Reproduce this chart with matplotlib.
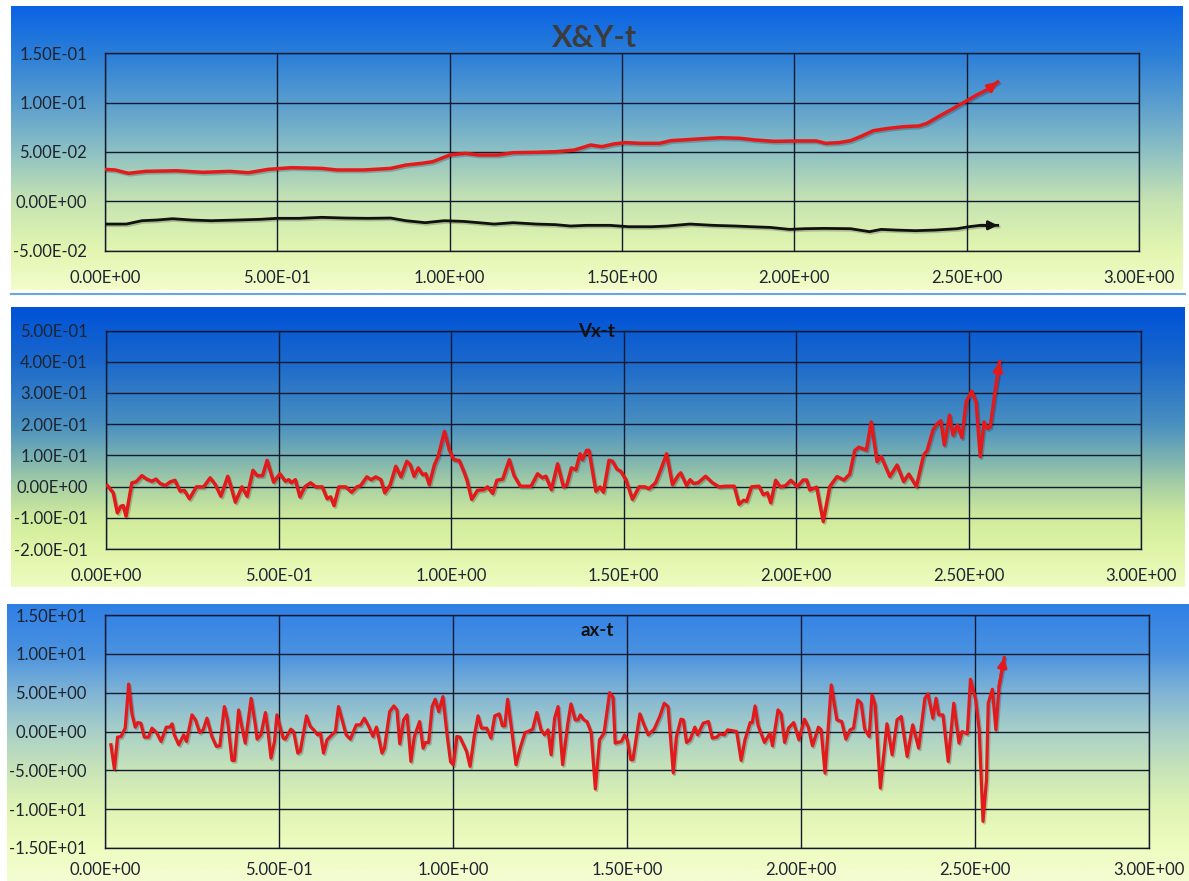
import numpy as np
import matplotlib
matplotlib.use("Agg")
import matplotlib.pyplot as plt
from matplotlib.colors import LinearSegmentedColormap
from matplotlib.ticker import FuncFormatter, MultipleLocator
from matplotlib.lines import Line2D
import matplotlib.patheffects as pe

plt.rcParams['font.family'] = ['Lato', 'DejaVu Sans']

# ---------------- data ----------------
x_t = [0.000, 0.029, 0.068, 0.118, 0.207, 0.284, 0.362, 0.416, 0.473, 0.540,
       0.629, 0.673, 0.751, 0.829, 0.873, 0.918, 0.951, 1.001, 1.046, 1.084,
       1.140, 1.184, 1.251, 1.307, 1.362, 1.409, 1.442, 1.476, 1.509, 1.553,
       1.609, 1.642, 1.720, 1.786, 1.842, 1.886, 1.941, 2.008, 2.063, 2.091,
       2.130, 2.163, 2.196, 2.229, 2.274, 2.318, 2.362, 2.385, 2.418, 2.462,
       2.501, 2.529, 2.562, 2.590]
x_pos = [0.0324, 0.0318, 0.0284, 0.0304, 0.0310, 0.0294, 0.0304, 0.0290, 0.0324, 0.0341,
         0.0334, 0.0318, 0.0318, 0.0334, 0.0368, 0.0385, 0.0402, 0.0470, 0.0486, 0.0470,
         0.0470, 0.0493, 0.0497, 0.0503, 0.0520, 0.0571, 0.0554, 0.0581, 0.0595, 0.0588,
         0.0588, 0.0615, 0.0632, 0.0645, 0.0639, 0.0622, 0.0608, 0.0612, 0.0612, 0.0588,
         0.0595, 0.0615, 0.0662, 0.0716, 0.0740, 0.0757, 0.0764, 0.0791, 0.0858, 0.0943,
         0.1020, 0.1078, 0.1135, 0.1210]

y_t = [0.000, 0.062, 0.107, 0.151, 0.196, 0.251, 0.307, 0.384, 0.451, 0.500,
       0.562, 0.629, 0.696, 0.762, 0.829, 0.873, 0.929, 0.984, 1.040, 1.084,
       1.129, 1.184, 1.251, 1.307, 1.351, 1.396, 1.465, 1.520, 1.586, 1.631,
       1.697, 1.764, 1.830, 1.875, 1.930, 1.986, 2.030, 2.085, 2.163, 2.218,
       2.252, 2.296, 2.351, 2.407, 2.473, 2.506, 2.540, 2.590]
y_pos = [-0.0230, -0.0230, -0.0196, -0.0189, -0.0176, -0.0189, -0.0196, -0.0189, -0.0182, -0.0172,
         -0.0172, -0.0162, -0.0169, -0.0172, -0.0169, -0.0196, -0.0216, -0.0196, -0.0203, -0.0216,
         -0.0230, -0.0216, -0.0230, -0.0236, -0.0250, -0.0243, -0.0243, -0.0257, -0.0257, -0.0250,
         -0.0230, -0.0243, -0.0250, -0.0257, -0.0264, -0.0284, -0.0277, -0.0274, -0.0277, -0.0307,
         -0.0284, -0.0291, -0.0297, -0.0291, -0.0277, -0.0257, -0.0243, -0.0243]

vx_t = [0.004, 0.021, 0.033, 0.043, 0.050, 0.058, 0.075, 0.087, 0.104, 0.118,
        0.133, 0.145, 0.157, 0.172, 0.186, 0.200, 0.215, 0.227, 0.242, 0.262,
        0.283, 0.302, 0.317, 0.333, 0.353, 0.362, 0.375, 0.394, 0.409, 0.426,
        0.438, 0.454, 0.467, 0.486, 0.504, 0.520, 0.530, 0.537, 0.549, 0.562,
        0.576, 0.593, 0.608, 0.627, 0.641, 0.651, 0.661, 0.675, 0.695, 0.712,
        0.727, 0.738, 0.756, 0.769, 0.782, 0.797, 0.808, 0.824, 0.840, 0.855,
        0.872, 0.882, 0.893, 0.905, 0.918, 0.927, 0.937, 0.952, 0.963, 0.981,
        0.995, 1.008, 1.024, 1.037, 1.046, 1.060, 1.077, 1.095, 1.106, 1.121,
        1.133, 1.150, 1.169, 1.183, 1.201, 1.232, 1.251, 1.265, 1.275, 1.291,
        1.309, 1.326, 1.336, 1.349, 1.362, 1.374, 1.381, 1.393, 1.400, 1.420,
        1.432, 1.442, 1.458, 1.468, 1.481, 1.492, 1.507, 1.526, 1.545, 1.562,
        1.574, 1.593, 1.608, 1.625, 1.642, 1.658, 1.666, 1.683, 1.693, 1.703,
        1.716, 1.738, 1.758, 1.777, 1.797, 1.821, 1.835, 1.848, 1.857, 1.871,
        1.893, 1.905, 1.917, 1.927, 1.941, 1.954, 1.970, 1.985, 2.004, 2.021,
        2.031, 2.040, 2.060, 2.079, 2.098, 2.119, 2.139, 2.156, 2.170, 2.182,
        2.204, 2.218, 2.235, 2.247, 2.272, 2.293, 2.312, 2.327, 2.349, 2.370,
        2.380, 2.397, 2.408, 2.420, 2.430, 2.445, 2.455, 2.468, 2.481, 2.493,
        2.509, 2.522, 2.534, 2.545, 2.555, 2.563, 2.577, 2.590]
vx = [0.003, -0.020, -0.084, -0.063, -0.061, -0.095, 0.012, 0.015, 0.035, 0.024,
      0.017, 0.024, 0.010, 0.003, 0.015, 0.020, -0.015, -0.012, -0.039, -0.001,
      -0.001, 0.028, 0.006, -0.031, 0.033, 0.001, -0.050, -0.001, -0.031, 0.052,
      0.035, 0.035, 0.084, 0.014, 0.041, 0.017, 0.022, 0.012, 0.022, -0.033,
      -0.001, 0.012, -0.001, -0.001, -0.039, -0.033, -0.061, -0.001, -0.001, -0.018,
      -0.001, 0.003, 0.031, 0.022, 0.031, 0.022, -0.020, 0.006, 0.065, 0.031,
      0.081, 0.070, 0.033, 0.060, 0.038, 0.041, 0.006, 0.070, 0.097, 0.177,
      0.118, 0.086, 0.083, 0.049, 0.022, -0.041, -0.012, -0.010, -0.001, -0.022,
      0.020, 0.024, 0.086, 0.035, 0.001, 0.001, 0.041, 0.028, 0.033, -0.010,
      0.073, -0.001, 0.006, 0.060, 0.054, 0.105, 0.086, 0.116, 0.116, -0.015,
      -0.001, -0.018, 0.084, 0.081, 0.056, 0.049, 0.022, -0.041, -0.001, -0.001,
      -0.007, 0.012, 0.054, 0.105, 0.006, 0.035, 0.044, 0.003, 0.022, 0.010,
      0.012, 0.033, 0.012, -0.001, 0.001, 0.001, -0.057, -0.044, -0.047, -0.001,
      0.001, -0.026, -0.020, -0.052, 0.020, -0.001, 0.003, 0.020, 0.000, 0.021,
      0.021, -0.011, -0.002, -0.112, 0.000, 0.032, 0.021, 0.040, 0.115, 0.126,
      0.117, 0.207, 0.080, 0.096, 0.032, 0.069, 0.016, 0.040, 0.000, 0.101,
      0.115, 0.181, 0.200, 0.211, 0.133, 0.229, 0.165, 0.197, 0.157, 0.271,
      0.306, 0.271, 0.096, 0.207, 0.186, 0.191, 0.303, 0.400]

ax_t = [0.017, 0.027, 0.036, 0.046, 0.058, 0.068, 0.078, 0.087, 0.094, 0.103,
        0.113, 0.125, 0.135, 0.148, 0.161, 0.176, 0.186, 0.193, 0.199, 0.212,
        0.226, 0.234, 0.250, 0.260, 0.272, 0.282, 0.293, 0.307, 0.320, 0.330,
        0.343, 0.352, 0.365, 0.372, 0.384, 0.394, 0.403, 0.420, 0.432, 0.437,
        0.448, 0.461, 0.467, 0.477, 0.487, 0.494, 0.504, 0.512, 0.518, 0.534,
        0.542, 0.554, 0.561, 0.579, 0.590, 0.600, 0.611, 0.619, 0.628, 0.638,
        0.652, 0.662, 0.671, 0.684, 0.693, 0.705, 0.722, 0.734, 0.745, 0.758,
        0.770, 0.780, 0.796, 0.803, 0.818, 0.830, 0.839, 0.847, 0.858, 0.868,
        0.879, 0.889, 0.904, 0.914, 0.921, 0.930, 0.940, 0.949, 0.959, 0.971,
        0.983, 0.993, 1.001, 1.011, 1.020, 1.030, 1.039, 1.049, 1.061, 1.072,
        1.082, 1.097, 1.109, 1.120, 1.133, 1.142, 1.149, 1.157, 1.168, 1.181,
        1.193, 1.207, 1.216, 1.229, 1.241, 1.253, 1.263, 1.273, 1.282, 1.292,
        1.302, 1.315, 1.330, 1.339, 1.351, 1.359, 1.366, 1.376, 1.385, 1.397,
        1.409, 1.421, 1.434, 1.450, 1.460, 1.466, 1.484, 1.493, 1.501, 1.511,
        1.517, 1.537, 1.549, 1.561, 1.578, 1.594, 1.607, 1.618, 1.633, 1.642,
        1.655, 1.662, 1.671, 1.681, 1.695, 1.703, 1.719, 1.734, 1.745, 1.758,
        1.767, 1.780, 1.789, 1.800, 1.815, 1.828, 1.839, 1.854, 1.860, 1.868,
        1.877, 1.895, 1.911, 1.918, 1.934, 1.943, 1.953, 1.964, 1.979, 1.994,
        2.010, 2.021, 2.033, 2.050, 2.058, 2.069, 2.087, 2.103, 2.117, 2.129,
        2.141, 2.151, 2.163, 2.173, 2.183, 2.196, 2.204, 2.213, 2.228, 2.247,
        2.262, 2.276, 2.288, 2.305, 2.321, 2.338, 2.356, 2.365, 2.379, 2.388,
        2.396, 2.408, 2.423, 2.439, 2.454, 2.463, 2.478, 2.487, 2.502, 2.512,
        2.523, 2.533, 2.538, 2.550, 2.560, 2.569, 2.584]
ax_v = [-1.71, -4.83, -0.73, -0.64, 0.43, 6.11, 2.14, 0.56, 1.15, 1.07,
        -0.73, -0.73, 0.43, -0.13, -1.28, 0.56, 0.56, 0.98, -0.43, -1.71,
        -0.43, -1.28, 2.14, 1.50, -0.13, 0.21, 1.71, -0.64, -1.92, -1.84,
        3.21, 1.50, -3.72, -3.72, 2.78, 0.43, -1.50, 4.27, 0.85, -0.98,
        -0.43, 2.44, 0.56, -3.42, -1.28, 2.14, 0.43, -0.85, -0.98, 0.30,
        0.00, -2.78, -2.56, 2.01, 0.64, 0.21, -0.43, -0.21, -2.78, -1.07,
        -0.43, 0.00, 3.21, 1.07, -0.43, -0.98, 0.85, 0.85, 1.71, 0.64,
        -0.64, 0.56, -2.78, -2.14, 2.56, 3.29, 2.78, -1.58, 1.50, 2.14,
        -3.85, -0.64, 1.28, -2.14, -1.41, -1.41, 3.21, 4.15, 2.56, 4.49,
        -0.43, -3.90, -4.30, -0.64, -0.73, -1.71, -2.56, -4.49, -0.64, 2.01,
        0.43, 0.43, -0.85, 2.01, 2.27, 0.73, 0.73, 4.15, 0.43, -4.27,
        -2.14, -0.13, 0.00, 0.30, 2.44, 0.21, -0.43, 0.21, -2.99, 1.71,
        3.21, -4.27, 1.07, 3.55, 1.50, 1.50, 2.14, 1.50, 1.28, -0.13,
        -7.39, -1.07, -0.21, 5.00, 4.40, -1.50, -1.28, -0.43, -1.07, -3.63,
        -3.63, 2.27, 0.85, -0.43, 0.30, 1.92, 3.63, 3.21, -5.34, -0.64,
        1.58, 1.50, -1.41, -1.07, 0.56, -0.43, 1.07, 1.28, -0.85, -0.73,
        -0.30, -0.43, 0.21, 0.13, 0.00, -3.72, -1.07, 1.15, 1.15, 3.29,
        0.73, -1.41, -0.21, -1.84, 2.78, 2.27, -1.41, 0.43, 1.15, -1.07,
        1.58, 0.56, -1.84, 0.56, 0.21, -5.36, 6.00, 1.50, 1.28, -0.98,
        0.21, 0.43, 4.07, 3.64, 0.30, -0.64, 4.71, 3.43, -7.28, 0.99,
        -3.00, 1.50, 1.93, -3.21, 0.86, -2.14, 4.28, 4.84, 1.71, 4.28,
        2.14, 2.14, -3.86, 3.64, -1.50, 0.00, -0.30, 6.73, 4.07, 0.21,
        -11.57, -6.21, 3.64, 5.44, 0.21, 5.78, 9.50]

titles = ["X&Y-t", "Vx-t", "ax-t"]
x_ticks_step = 0.5

# ---------------- layout ----------------
W, H = 1189, 881
fig = plt.figure(figsize=(W / 100, H / 100), dpi=100)
fig.patch.set_facecolor("white")


def frac(l, t, r, b):
    return [l / W, 1 - b / H, (r - l) / W, (b - t) / H]


def background(rect, stops):
    bg = fig.add_axes(frac(*rect), zorder=0)
    cmap = LinearSegmentedColormap.from_list("g", stops)
    grad = np.linspace(0, 1, 256).reshape(-1, 1)
    bg.imshow(grad, cmap=cmap, aspect="auto", extent=[0, 1, 0, 1], origin="upper")
    bg.set_axis_off()
    return bg


background((11, 6, 1183, 290),
           [(0.0, "#0a63e4"), (0.17, "#2c7fd8"), (0.34, "#5a9ecf"), (0.51, "#8cc0c4"),
            (0.68, "#c4e2b2"), (0.86, "#e2f6b0"), (1.0, "#f3fccb")])
background((11, 307, 1185, 587),
           [(0.0, "#0052d8"), (0.19, "#1a68cc"), (0.42, "#4a90c0"), (0.53, "#78b0b2"),
            (0.64, "#a8d0a4"), (0.75, "#cfea9c"), (0.86, "#def4a6"), (1.0, "#eefcc0")])
background((7, 604, 1189, 881),
           [(0.0, "#2f7fe6"), (0.18, "#4b93e0"), (0.32, "#80b4d4"), (0.46, "#a9d0c8"),
            (0.60, "#c8e4b8"), (0.74, "#e0f4b4"), (0.88, "#eefcc0"), (1.0, "#f4fcd2")])

fig.add_artist(Line2D([11 / W, 1185 / W], [1 - 294 / H, 1 - 294 / H],
                      color="#6aa6e0", lw=1.5))

fmt = FuncFormatter(lambda v, p: f"{v:.2E}")
grid_col = "#111a2e"


def make_axes(rect, ylim, ystep, xpad=14):
    a = fig.add_axes(frac(*rect), zorder=2)
    a.set_facecolor("none")
    a.set_xlim(0, 3)
    a.set_ylim(*ylim)
    a.xaxis.set_major_locator(MultipleLocator(x_ticks_step))
    a.yaxis.set_major_locator(MultipleLocator(ystep))
    a.xaxis.set_major_formatter(fmt)
    a.yaxis.set_major_formatter(fmt)
    a.grid(True, color=grid_col, lw=1.0)
    a.set_axisbelow(True)
    for s in a.spines.values():
        s.set_color(grid_col)
        s.set_linewidth(1.0)
    a.tick_params(axis="both", length=0, labelsize=12, labelcolor="#1e2430")
    a.tick_params(axis="y", pad=13)
    a.tick_params(axis="x", pad=xpad)
    return a


shadow = [pe.SimpleLineShadow(offset=(1.0, -1.2), alpha=0.2, shadow_color="black"),
          pe.Normal()]


def draw(a, t, v, color, lw):
    a.plot(t, v, color=color, lw=lw, solid_joinstyle="round",
           path_effects=shadow, zorder=3)
    a.annotate("", xy=(t[-1], v[-1]), xytext=(t[-2], v[-2]),
               arrowprops=dict(arrowstyle="-|>", color=color, lw=lw,
                               mutation_scale=13, shrinkA=0, shrinkB=0),
               zorder=4)


red = "#e31a1c"

a1 = make_axes((105, 53.3, 1139, 250.7), (-0.05, 0.15), 0.05)
draw(a1, x_t, x_pos, red, 2.5)
draw(a1, y_t, y_pos, "#111111", 2.0)
fig.text(595 / W, 1 - 38 / H, titles[0], ha="center", va="center",
         fontsize=22, fontweight="bold", color="#3c3c3c")

a2 = make_axes((106, 330.5, 1141, 549), (-0.2, 0.5), 0.1)
draw(a2, vx_t, vx, red, 2.5)
fig.text(597 / W, 1 - 331 / H, titles[1], ha="center", va="center",
         fontsize=13.5, fontweight="bold", color="#111111", zorder=5)

a3 = make_axes((105, 615, 1149, 848), (-15, 15), 5, xpad=10)
draw(a3, ax_t, ax_v, red, 2.3)
fig.text(597 / W, 1 - 630 / H, titles[2], ha="center", va="center",
         fontsize=13.5, fontweight="bold", color="#111111", zorder=5)

fig.savefig("out.png", dpi=100)
